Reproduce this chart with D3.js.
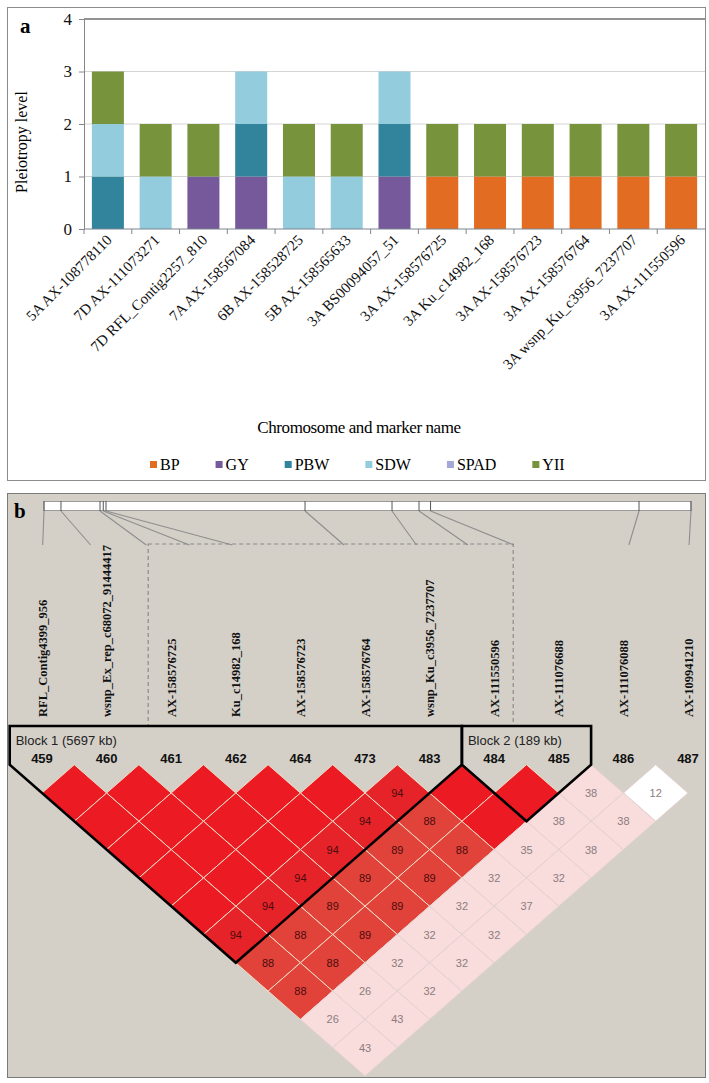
<!DOCTYPE html>
<html>
<head>
<meta charset="utf-8">
<script src="https://cdn.jsdelivr.net/npm/d3@7"></script>
<style>
  body { margin: 0; background: #fff; }
  svg { display: block; }
</style>
</head>
<body>
<svg></svg>
<script>
const svgWidth = 709;
const svgHeight = 1083;

// ---- panel a: pleiotropy of markers ----
const markerLabels = ["5A AX-108778110", "7D AX-111073271", "7D RFL_Contig2257_810", "7A AX-158567084",
  "6B AX-158528725", "5B AX-158565633", "3A BS00094057_51", "3A AX-158576725", "3A Ku_c14982_168",
  "3A AX-158576723", "3A AX-158576764", "3A wsnp_Ku_c3956_7237707", "3A AX-111550596"];
const traits = ["BP", "GY", "PBW", "SDW", "SPAD", "YII"];
const BP   = [0, 0, 0, 0, 0, 0, 0, 1, 1, 1, 1, 1, 1];
const GY   = [0, 0, 1, 1, 0, 0, 1, 0, 0, 0, 0, 0, 0];
const PBW  = [1, 0, 0, 1, 0, 0, 1, 0, 0, 0, 0, 0, 0];
const SDW  = [1, 1, 0, 1, 1, 1, 1, 0, 0, 0, 0, 0, 0];
const SPAD = [0, 0, 0, 0, 0, 0, 0, 0, 0, 0, 0, 0, 0];
const YII  = [1, 1, 1, 0, 1, 1, 0, 1, 1, 1, 1, 1, 1];
const yTicks = [0, 1, 2, 3, 4];
const traitColors = ["#e36c23", "#76599a", "#31849b", "#93cddd", "#a3a8d8", "#77933c"];

// ---- panel b: LD plot ----
const ldMarkers = ["459", "460", "461", "462", "464", "473", "483", "484", "485", "486", "487"];
const ldNames = ["RFL_Contig4399_956", "wsnp_Ex_rep_c68072_91444417", "AX-158576725", "Ku_c14982_168",
  "AX-158576723", "AX-158576764", "wsnp_Ku_c3956_7237707", "AX-111550596", "AX-111076688",
  "AX-111076088", "AX-109941210"];
// approximate physical position (kb) along the map
const mapKb = [0, 278, 917, 970, 1015, 4273, 5697, 6139, 6328, 9740, 10591];
// D' x100, one row per marker distance (row 1 = neighbours)
const ldRows = [
  [100, 100, 100, 100, 100, 94, 100, 100, 38, 12],
  [100, 100, 100, 100, 94, 88, 100, 38, 38],
  [100, 100, 100, 94, 89, 88, 35, 38],
  [100, 100, 94, 89, 89, 32, 32],
  [100, 94, 89, 89, 32, 37],
  [94, 88, 89, 32, 32],
  [88, 88, 32, 32],
  [88, 26, 32],
  [26, 43],
  [43]
];
const blockLabels = ["Block 1 (5697 kb)", "Block 2 (189 kb)"];
const blockStart = ["459", "484"];
const blockEnd = ["483", "485"];

const svg = d3.select("svg")
  .attr("width", svgWidth)
  .attr("height", svgHeight);

const serif = "'Liberation Serif', 'Times New Roman', serif";
const sans = "'Liberation Sans', Arial, sans-serif";

// ================= panel a =================
svg.append("rect")
  .attr("x", 7.5).attr("y", 7.5)
  .attr("width", 698).attr("height", 473)
  .attr("fill", "#fff")
  .attr("stroke", "#8c8c8c");

svg.append("text")
  .attr("x", 20).attr("y", 33)
  .attr("font-family", serif)
  .attr("font-weight", "bold")
  .attr("font-size", 21)
  .text("a");

const x = d3.scaleBand()
  .domain(markerLabels)
  .range([84, 705])
  .paddingInner(0.33)
  .paddingOuter(0.165);

const y = d3.scaleLinear()
  .domain([0, 4])
  .range([229, 19]);

// gridlines
svg.append("g")
  .selectAll("line")
  .data(yTicks.slice(1))
  .enter()
  .append("line")
  .attr("x1", 84).attr("x2", 705)
  .attr("y1", function(d) { return y(d); })
  .attr("y2", function(d) { return y(d); })
  .attr("stroke", function(d) { return d === 4 ? "#6e6e6e" : "#d4d4d4"; })
  .attr("stroke-width", function(d) { return d === 4 ? 1.3 : 1; });

const traitValues = { BP: BP, GY: GY, PBW: PBW, SDW: SDW, SPAD: SPAD, YII: YII };
const rows = markerLabels.map(function(name, i) {
  const row = { name: name };
  traits.forEach(function(t) { row[t] = traitValues[t][i]; });
  return row;
});
const stacked = d3.stack().keys(traits)(rows);

svg.append("g")
  .selectAll("g")
  .data(stacked)
  .enter()
  .append("g")
  .attr("fill", function(d, i) { return traitColors[i]; })
  .selectAll("rect")
  .data(function(d) { return d; })
  .enter()
  .append("rect")
  .attr("x", function(d) { return x(d.data.name); })
  .attr("y", function(d) { return y(d[1]); })
  .attr("width", x.bandwidth())
  .attr("height", function(d) { return y(d[0]) - y(d[1]); });

// y axis
const yAxis = svg.append("g")
  .attr("transform", "translate(84,0)")
  .call(d3.axisLeft(y).tickValues(yTicks).tickSize(5).tickSizeOuter(0).tickPadding(7).tickFormat(d3.format("d")));
yAxis.select(".domain").attr("stroke", "#868686");
yAxis.selectAll(".tick line").attr("stroke", "#868686");
yAxis.selectAll(".tick text")
  .attr("font-family", serif)
  .attr("font-size", 17)
  .attr("fill", "#111");

// x axis line with category boundary ticks
svg.append("line")
  .attr("x1", 84).attr("x2", 705)
  .attr("y1", y(0)).attr("y2", y(0))
  .attr("stroke", "#7a8590");
const halfGap = x.step() * x.paddingInner() / 2;
svg.append("g")
  .selectAll("line")
  .data(markerLabels)
  .enter()
  .append("line")
  .attr("x1", function(d) { return x(d) - halfGap; })
  .attr("x2", function(d) { return x(d) - halfGap; })
  .attr("y1", y(0)).attr("y2", y(0) + 5)
  .attr("stroke", "#868686");

svg.append("g")
  .selectAll("text")
  .data(markerLabels)
  .enter()
  .append("text")
  .attr("transform", function(d) {
    return "translate(" + (x(d) + x.bandwidth() / 2 + 5) + "," + (y(0) + 12) + ") rotate(-45)";
  })
  .attr("text-anchor", "end")
  .attr("font-family", serif)
  .attr("font-size", 15)
  .attr("fill", "#111")
  .text(function(d) { return d; });

svg.append("text")
  .attr("transform", "translate(27,142) rotate(-90)")
  .attr("text-anchor", "middle")
  .attr("font-family", serif)
  .attr("font-size", 16)
  .text("Pleiotropy level");

svg.append("text")
  .attr("x", 359).attr("y", 433)
  .attr("text-anchor", "middle")
  .attr("font-family", serif)
  .attr("font-size", 17)
  .attr("letter-spacing", -0.4)
  .text("Chromosome and marker name");

// legend, laid out left to right
let legendX = 150;
traits.forEach(function(t, i) {
  const item = svg.append("g").attr("transform", "translate(" + legendX + ",0)");
  item.append("rect")
    .attr("x", 0).attr("y", 461)
    .attr("width", 7).attr("height", 7)
    .attr("fill", traitColors[i]);
  const label = item.append("text")
    .attr("x", 10).attr("y", 470)
    .attr("font-family", serif)
    .attr("font-size", 16)
    .text(t);
  legendX += 10 + label.node().getComputedTextLength() + 36;
});

// ================= panel b =================
svg.append("rect")
  .attr("x", 7.5).attr("y", 493.5)
  .attr("width", 698).attr("height", 584)
  .attr("fill", "#d4d0c8")
  .attr("stroke", "#7a7a7a");

svg.append("text")
  .attr("x", 14).attr("y", 518)
  .attr("font-family", serif)
  .attr("font-weight", "bold")
  .attr("font-size", 21)
  .text("b");

const xLD = d3.scalePoint()
  .domain(ldMarkers)
  .range([42, 688]);
const halfW = xLD.step() / 2;
const halfH = 28.3;
const rowY = d3.scaleLinear()
  .domain([1, ldMarkers.length - 1])
  .range([793, 793 + (ldMarkers.length - 2) * halfH]);

const mapX = d3.scaleLinear()
  .domain(d3.extent(mapKb))
  .range([44, 691]);

// chromosome map bar
svg.append("rect")
  .attr("x", mapX(d3.min(mapKb))).attr("y", 501.5)
  .attr("width", mapX(d3.max(mapKb)) - mapX(d3.min(mapKb)))
  .attr("height", 9)
  .attr("fill", "#fff")
  .attr("stroke", "#9a9a9a");

svg.append("g")
  .selectAll("line")
  .data(mapKb)
  .enter()
  .append("line")
  .attr("x1", function(d) { return mapX(d); })
  .attr("x2", function(d) { return mapX(d); })
  .attr("y1", 501).attr("y2", 511)
  .attr("stroke", "#555");

svg.append("g")
  .selectAll("line")
  .data(mapKb)
  .enter()
  .append("line")
  .attr("x1", function(d) { return mapX(d); })
  .attr("y1", 511)
  .attr("x2", function(d, i) { return mapX(d) + 0.65 * (xLD(ldMarkers[i]) - mapX(d)); })
  .attr("y2", 545)
  .attr("stroke", "#8e8e8e")
  .attr("stroke-width", 1.1);

// dashed box round the 3A markers
const boxLeft = xLD("461") - 23;
const boxRight = xLD("484") + 19;
svg.append("rect")
  .attr("x", boxLeft).attr("y", 544)
  .attr("width", boxRight - boxLeft).attr("height", 182)
  .attr("fill", "none")
  .attr("stroke", "#8a8a8a")
  .attr("stroke-width", 1.2)
  .attr("stroke-dasharray", "4,3");

// marker names
svg.append("g")
  .selectAll("text")
  .data(ldNames)
  .enter()
  .append("text")
  .attr("transform", function(d, i) {
    return "translate(" + (xLD(ldMarkers[i]) + 4.5) + ",717) rotate(-90)";
  })
  .attr("font-family", serif)
  .attr("font-weight", "bold")
  .attr("font-size", 12.5)
  .attr("fill", "#111")
  .text(function(d) { return d; });

// marker numbers
svg.append("g")
  .selectAll("text")
  .data(ldMarkers)
  .enter()
  .append("text")
  .attr("x", function(d) { return xLD(d); })
  .attr("y", 763)
  .attr("text-anchor", "middle")
  .attr("font-family", sans)
  .attr("font-weight", "bold")
  .attr("font-size", 13)
  .attr("fill", "#111")
  .text(function(d) { return d; });

// LD cells
const cells = [];
ldRows.forEach(function(row, r) {
  row.forEach(function(v, i) {
    cells.push({ i: i, j: i + r + 1, v: v });
  });
});

const ldColor = d3.scaleThreshold()
  .domain([20, 60, 90, 100])
  .range(["#ffffff", "#f9dcdc", "#e1433a", "#e7232a", "#ec1b23"]);

const cellG = svg.append("g");
cellG.selectAll("polygon")
  .data(cells)
  .enter()
  .append("polygon")
  .attr("points", function(d) {
    const cx = (xLD(ldMarkers[d.i]) + xLD(ldMarkers[d.j])) / 2;
    const cy = rowY(d.j - d.i);
    return [[cx, cy - halfH], [cx + halfW, cy], [cx, cy + halfH], [cx - halfW, cy]].join(" ");
  })
  .attr("fill", function(d) { return ldColor(d.v); })
  .attr("stroke", function(d) { return d.v >= 60 ? "#f3dcc6" : "#e2d2d0"; })
  .attr("stroke-width", 1);

cellG.selectAll("text")
  .data(cells.filter(function(d) { return d.v < 100; }))
  .enter()
  .append("text")
  .attr("x", function(d) { return (xLD(ldMarkers[d.i]) + xLD(ldMarkers[d.j])) / 2; })
  .attr("y", function(d) { return rowY(d.j - d.i) + 4; })
  .attr("text-anchor", "middle")
  .attr("font-family", sans)
  .attr("font-size", 11)
  .attr("fill", function(d) { return d.v >= 60 ? "#4a0c0c" : "#8a7c7c"; })
  .text(function(d) { return d.v; });

// haplotype block outlines
const topY = 726;
blockLabels.forEach(function(label, k) {
  const a = ldMarkers.indexOf(blockStart[k]);
  const b = ldMarkers.indexOf(blockEnd[k]);
  const xa = xLD(blockStart[k]);
  const xb = xLD(blockEnd[k]);
  const rowTop = rowY(1) - halfH;
  const tip = rowY(1) + (b - a) * halfH;
  const pts = [[xa - halfW, topY], [xa - halfW, rowTop], [(xa + xb) / 2, tip],
    [xb + halfW, rowTop], [xb + halfW, topY]];
  svg.append("path")
    .attr("d", d3.line()(pts) + "Z")
    .attr("fill", "none")
    .attr("stroke", "#000")
    .attr("stroke-width", 2.6)
    .attr("stroke-linejoin", "miter");
  svg.append("text")
    .attr("x", xa - halfW + 6).attr("y", 745)
    .attr("font-family", sans)
    .attr("font-size", 13)
    .attr("fill", "#222")
    .text(label);
});
</script>
</body>
</html>
